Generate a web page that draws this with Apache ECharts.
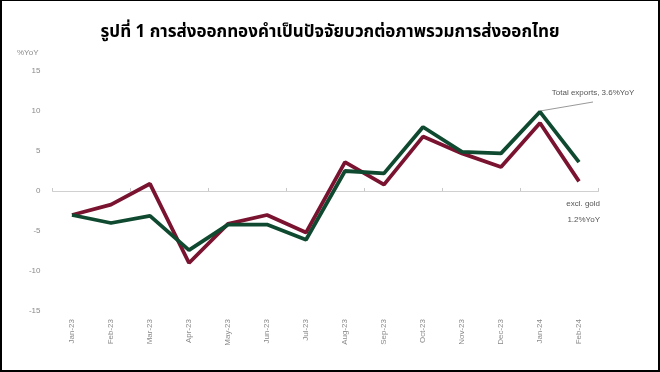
<!DOCTYPE html>
<html>
<head>
<meta charset="utf-8">
<script src="https://cdn.jsdelivr.net/npm/echarts@6/dist/echarts.min.js"></script>
<style>
html,body{margin:0;padding:0;background:#fff;}
#wrap{position:relative;width:660px;height:372px;}
#chart{position:absolute;left:0;top:0;width:660px;height:372px;}
#frame{position:absolute;left:0;top:0;width:660px;height:372px;box-sizing:border-box;border:2px solid #000;border-top-width:1px;pointer-events:none;}
</style>
</head>
<body>
<div id="wrap"><div id="chart"></div><div id="frame"></div></div>
<script>
const categories = ["Jan-23","Feb-23","Mar-23","Apr-23","May-23","Jun-23","Jul-23","Aug-23","Sep-23","Oct-23","Nov-23","Dec-23","Jan-24","Feb-24"];
const totalExports = [-3.0,-4.0,-3.1,-7.4,-4.2,-4.2,-6.1,2.5,2.2,8.0,4.9,4.7,9.9,3.6];
const exclGold = [-3.0,-1.7,0.9,-9.0,-4.1,-3.0,-5.2,3.6,0.8,6.8,4.7,3.0,8.5,1.2];
const yTicks = {min:-15, max:15, interval:5};
const titleText = "รูปที่ 1 การส่งออกทองคำเป็นปัจจัยบวกต่อภาพรวมการส่งออกไทย";

const chart = echarts.init(document.getElementById('chart'), null, {renderer:'canvas'});
const gray = '#8a8a8a';
const font = 'Liberation Sans, Arial, sans-serif';
chart.setOption({
  animation:false,
  backgroundColor:'#fff',
  title:{
    text:titleText, left:'center', top:20,
    textStyle:{fontFamily:'"Noto Sans Thai","Noto Sans","DejaVu Sans",sans-serif',fontWeight:'bold',fontSize:17,color:'#000'}
  },
  grid:{left:52.5, right:61.5, top:71, bottom:61, containLabel:false},
  xAxis:[
    {type:'category', data:categories, boundaryGap:true,
     axisLine:{show:false, onZero:false}, axisTick:{show:false},
     axisLabel:{rotate:90, margin:8, fontSize:8, color:gray, fontFamily:font, interval:0}},
    {type:'category', data:categories, boundaryGap:true,
     axisLine:{show:true, onZero:true, lineStyle:{color:'#d0d0d0', width:1}},
     axisTick:{show:true, length:3, inside:false, lineStyle:{color:'#c8c8c8'}},
     axisLabel:{show:false}}
  ],
  yAxis:{type:'value', min:yTicks.min, max:yTicks.max, interval:yTicks.interval,
    name:'%YoY', nameLocation:'end', nameGap:0,
    nameTextStyle:{fontSize:8, color:gray, fontFamily:font, align:'right', padding:[0,14,14,0]},
    axisLine:{show:false}, axisTick:{show:false}, splitLine:{show:false},
    axisLabel:{fontSize:8, color:gray, margin:12, fontFamily:font}},
  series:[
    {name:'excl. gold', type:'line', data:exclGold, symbol:'none', lineStyle:{color:'#7a1330', width:3.8}, z:2},
    {name:'Total exports', type:'line', data:totalExports, symbol:'none', lineStyle:{color:'#0f4a30', width:3.8}, z:3}
  ],
  graphic:[
    {type:'line', shape:{x1:540, y1:111, x2:593, y2:102}, style:{stroke:'#999', lineWidth:1}},
    {type:'text', x:593, y:93, style:{text:'Total exports, 3.6%YoY', fontSize:8, fill:'#555', fontFamily:font, align:'center', verticalAlign:'middle'}},
    {type:'text', x:600, y:204, style:{text:'excl. gold', fontSize:8, fill:'#555', fontFamily:font, align:'right', verticalAlign:'middle'}},
    {type:'text', x:600, y:220, style:{text:'1.2%YoY', fontSize:8, fill:'#555', fontFamily:font, align:'right', verticalAlign:'middle'}}
  ]
});
</script>
</body>
</html>
